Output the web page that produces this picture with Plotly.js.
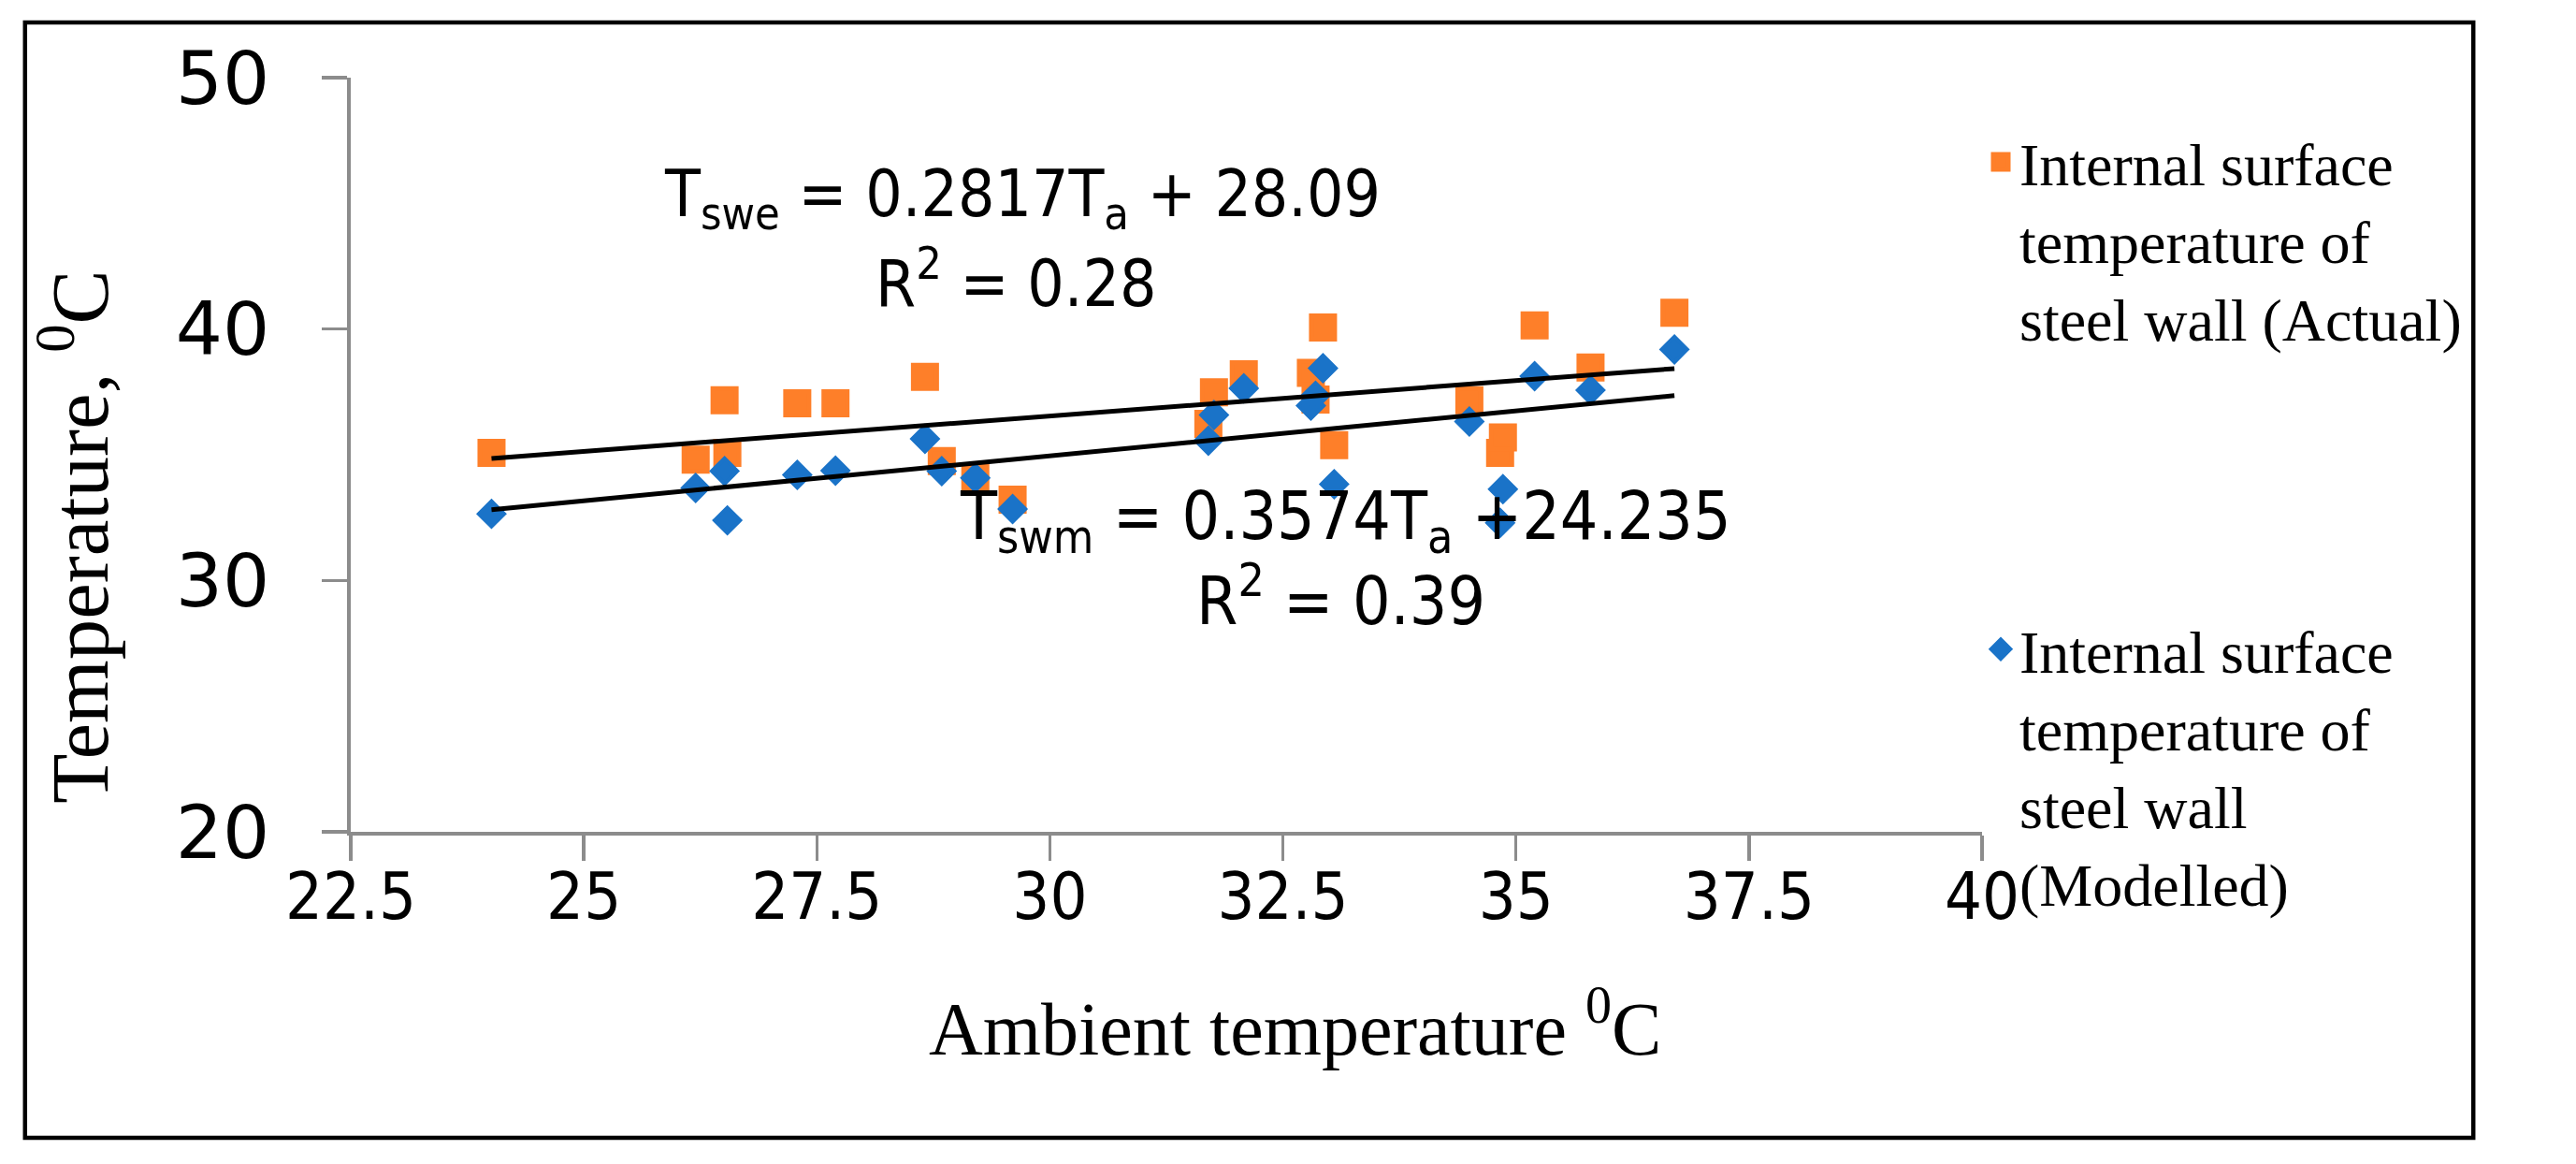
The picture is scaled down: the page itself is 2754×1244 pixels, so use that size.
<!DOCTYPE html>
<html>
<head>
<meta charset="utf-8">
<script src="https://cdn.plot.ly/plotly-3.0.1.min.js"></script>
<style>
  html, body { margin: 0; padding: 0; background: #fff; }
  #graph { width: 2754px; height: 1244px; }
</style>
</head>
<body>
<div id="graph"></div>
<script>
// Ambient temperature (deg C) shared by both series
const ambient = [24.01, 26.20, 26.51, 26.54, 27.29, 27.70, 28.66, 28.84, 29.20, 29.60,
                 31.70, 31.76, 32.08, 32.80, 32.85, 32.93, 33.05, 34.50, 34.83, 34.86,
                 35.20, 35.80, 36.70];

// Internal surface temperature of the steel wall, measured
const actual = [35.07, 34.80, 37.17, 35.07, 37.05, 37.05, 38.10, 34.75, 34.08, 33.21,
                36.23, 37.48, 38.20, 38.26, 37.20, 40.06, 35.38, 37.17, 35.07, 35.69,
                40.15, 38.47, 40.65];

// Same thing, modelled
const modelled = [32.65, 33.68, 34.35, 32.39, 34.20, 34.37, 35.63, 34.35, 34.08, 32.84,
                  35.56, 36.58, 37.64, 36.95, 37.35, 38.44, 33.83, 36.32, 32.29, 33.63,
                  38.13, 37.57, 39.19];

// Trendline equations printed on the chart: [actual, modelled]
const trendSlope = [0.2817, 0.3574];
const trendIntercept = [28.09, 24.235];

const seriesNames = [
  'Internal surface<br>temperature of<br>steel wall (Actual)',
  'Internal surface<br>temperature of<br>steel wall<br>(Modelled)'
];

const xTicks = [22.5, 25, 27.5, 30, 32.5, 35, 37.5, 40];
const xTickText = ['22.5', '25', '27.5', '30', '32.5', '35', '37.5', '40'];
const yTicks = [20, 30, 40, 50];
const yTickText = ['20', '30', '40', '50'];

// page geometry (pixels)
const W = 2754, H = 1244;
const M = { l: 375, r: 566, t: 83, b: 355 };
const plotW = W - M.l - M.r, plotH = H - M.t - M.b;
const px2paperX = px => (px - M.l) / plotW;
const px2paperY = py => (H - M.b - py) / plotH;

const ORANGE = '#FE7F29';
const BLUE = '#1A73C8';
const AXIS = '#8C8C8C';

function trendLine(i) {
  const x0 = Math.min(...ambient), x1 = Math.max(...ambient);
  return {
    x: [x0, x1],
    y: [trendSlope[i] * x0 + trendIntercept[i], trendSlope[i] * x1 + trendIntercept[i]],
    mode: 'lines',
    line: { color: '#000', width: 5 },
    showlegend: false,
    hoverinfo: 'skip'
  };
}

// a same-colour outline makes the legend symbols a bit bigger (legend caps size at 16)
const traces = [
  {
    x: ambient, y: actual, mode: 'markers', name: seriesNames[0], legendgroup: 'a',
    marker: { symbol: 'square', size: 25, color: ORANGE, line: { color: ORANGE, width: 5 } }
  },
  {
    x: ambient, y: modelled, mode: 'markers', name: seriesNames[1], legendgroup: 'm',
    marker: { symbol: 'diamond', size: 21, color: BLUE, line: { color: BLUE, width: 4 } }
  },
  trendLine(0),
  trendLine(1)
];

const condensed = 'DejaVu Sans Condensed, Liberation Sans Narrow, sans-serif';
const serif = 'Liberation Serif, Times New Roman, serif';
const eqFont = { family: condensed, size: 69, color: '#000' };
const eqFont2 = { family: condensed, size: 71, color: '#000' };

const layout = {
  width: W, height: H,
  margin: { l: M.l, r: M.r, t: M.t, b: M.b, pad: 0 },
  paper_bgcolor: '#fff', plot_bgcolor: '#fff',
  hovermode: false,
  xaxis: {
    range: [22.5, 40], tickvals: xTicks, ticktext: xTickText,
    showgrid: false, zeroline: false,
    showline: true, linecolor: AXIS, linewidth: 4,
    ticks: 'outside', ticklen: 27, tickwidth: 3.5, tickcolor: AXIS,
    ticklabelstandoff: -22,
    tickfont: { family: condensed, size: 70, color: '#000' }
  },
  yaxis: {
    range: [20, 50], tickvals: yTicks, ticktext: yTickText,
    showgrid: false, zeroline: false,
    showline: true, linecolor: AXIS, linewidth: 4,
    ticks: 'outside', ticklen: 27, tickwidth: 3.5, tickcolor: AXIS,
    ticklabelstandoff: 40,
    tickfont: { family: 'DejaVu Sans, sans-serif', size: 79, color: '#000' }
  },
  legend: {
    xref: 'container', yref: 'container',
    x: 2119 / W, y: 1 - 125 / H, xanchor: 'left', yanchor: 'top',
    font: { family: serif, size: 64, color: '#000' },
    traceorder: 'grouped', tracegroupgap: 268, valign: 'top',
    maxheight: 1100,
    bgcolor: 'rgba(0,0,0,0)'
  },
  annotations: [
    { xref: 'x', yref: 'y', x: 29.70, y: 45.20, showarrow: false, font: eqFont,
      xanchor: 'center', yanchor: 'middle',
      text: 'T<sub>swe</sub> = 0.2817T<sub>a</sub> + 28.09' },
    { xref: 'x', yref: 'y', x: 29.63, y: 42.00, showarrow: false, font: eqFont,
      xanchor: 'center', yanchor: 'middle',
      text: 'R<sup>2</sup> = 0.28' },
    { xref: 'x', yref: 'y', x: 33.17, y: 32.36, showarrow: false, font: eqFont2,
      xanchor: 'center', yanchor: 'middle',
      text: 'T<sub>swm</sub> = 0.3574T<sub>a</sub> +24.235' },
    { xref: 'x', yref: 'y', x: 33.12, y: 29.35, showarrow: false, font: eqFont2,
      xanchor: 'center', yanchor: 'middle',
      text: 'R<sup>2</sup> = 0.39' },
    // axis titles, placed where the original puts them (off-centre)
    { xref: 'paper', yref: 'paper', x: px2paperX(1424), y: px2paperY(1093),
      xanchor: 'center', yanchor: 'middle',
      showarrow: false, font: { family: serif, size: 80, color: '#000' },
      text: 'Ambient temperature <sup>0</sup>C' },
    { xref: 'paper', yref: 'paper', x: px2paperX(68), y: px2paperY(574), textangle: -90,
      xanchor: 'center', yanchor: 'middle',
      showarrow: false, font: { family: serif, size: 87, color: '#000' },
      text: 'Temperature, <sup>0</sup>C' }
  ],
  shapes: [
    { type: 'rect', xref: 'paper', yref: 'paper',
      x0: px2paperX(13), x1: px2paperX(2734), y0: px2paperY(1216), y1: px2paperY(24),
      line: { color: '#000', width: 4.5 }, fillcolor: 'rgba(0,0,0,0)', layer: 'below' }
  ]
};

Plotly.newPlot('graph', traces, layout, { displayModeBar: false, staticPlot: true });
</script>
</body>
</html>
